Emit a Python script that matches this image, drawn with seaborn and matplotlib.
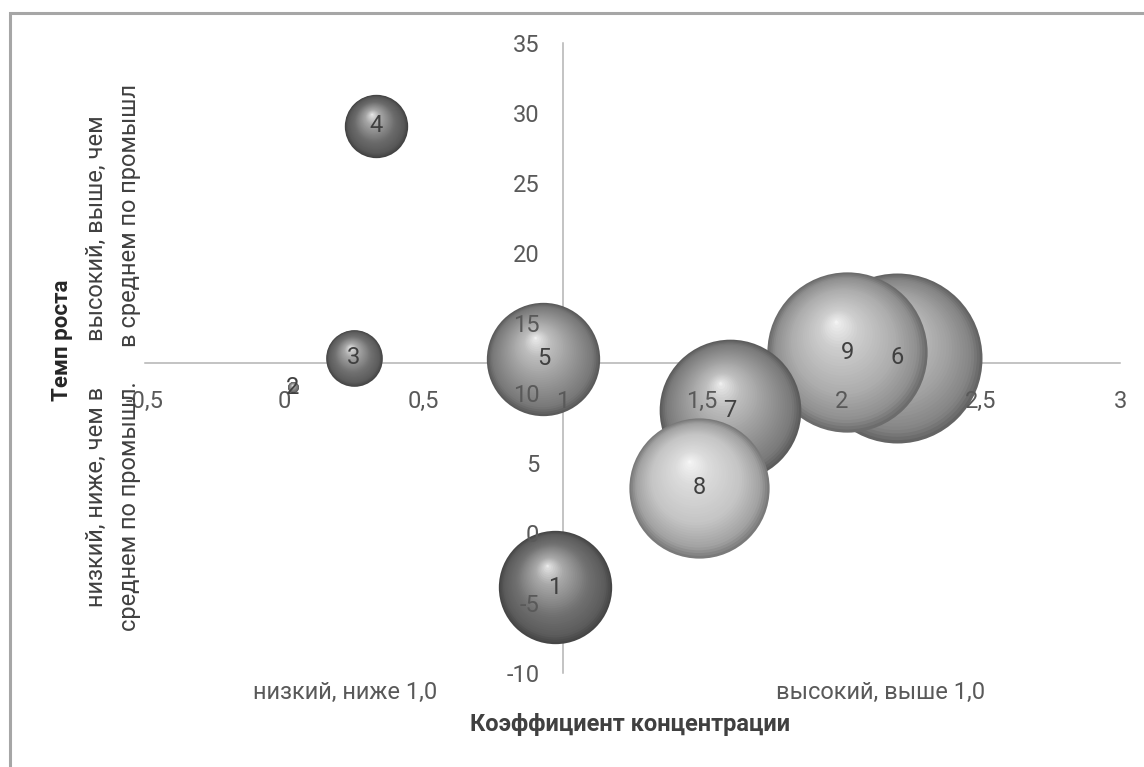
import numpy as np
import pandas as pd
import matplotlib
matplotlib.use("Agg")
import matplotlib.pyplot as plt
from matplotlib.path import Path
from matplotlib.patches import Rectangle
import seaborn as sns

# номера отраслей (подписи пузырьков)
labels = ["1", "2", "3", "4", "5", "6", "7", "8", "9"]
# коэффициент концентрации
conc = [0.97, 0.03, 0.25, 0.33, 0.93, 2.20, 1.60, 1.49, 2.02]
# темп роста
growth = [-3.9, 10.4, 12.5, 29.1, 12.45, 12.5, 8.75, 3.2, 12.9]
# размер пузырька
weight = [3.2, 0.03, 0.8, 1.0, 3.2, 7.2, 5.0, 4.9, 6.4]

x_cross = 1.0    # граница по коэффициенту концентрации
y_cross = 12.1   # средний темп роста по промышленности

x_ticks = [-0.5, 0, 0.5, 1, 1.5, 2, 2.5, 3]
y_ticks = [-10, -5, 0, 5, 10, 15, 20, 25, 30, 35]

# оттенки серого для каждого пузырька
tones = [0.44, 0.50, 0.44, 0.42, 0.57, 0.63, 0.58, 0.77, 0.68]


def fmt(v):
    return ("%g" % v).replace(".", ",")


def layer_marker(t, hx=-0.14, hy=0.38):
    # вложенные круги, сдвинутые к блику -> эффект шара
    circ = Path.circle((t * hx, t * hy), max(1 - t, 0.02))
    verts = np.vstack([[1.0, 1.0], circ.vertices])
    codes = np.concatenate([[Path.MOVETO], circ.codes])
    return Path(verts, codes)


def shade(b, t):
    knots = [0, 0.1, 0.35, 0.75, 1.0]
    vals = [b * 0.62, b * 0.82, b, b + (1 - b) * 0.4, b + (1 - b) * 0.85]
    g = float(np.interp(t, knots, vals))
    return (g, g, g)


df = pd.DataFrame({"label": labels, "conc": conc, "growth": growth, "weight": weight})

sns.set_style("white")
plt.rcParams["font.family"] = ["Roboto", "DejaVu Sans"]
plt.rcParams["axes.unicode_minus"] = False

fig = plt.figure(figsize=(11.44, 7.67), dpi=100)
ax = fig.add_axes([0.1268, 0.1230, 0.8523, 0.8210])

wmax = max(weight)
smax = 2.0736 * 1003.5 * wmax
steps = np.linspace(0, 1, 36)

for i in np.argsort(weight)[::-1]:
    row = df.iloc[[i]]
    for t in steps:
        sns.scatterplot(data=row, x="conc", y="growth", size="weight",
                        sizes=(0, smax), size_norm=(0, wmax),
                        color=shade(tones[i], t), marker=layer_marker(t),
                        linewidth=0, legend=False, ax=ax, zorder=2)

for lab, xv, yv in zip(labels, conc, growth):
    ax.text(xv, yv, lab, ha="center", va="center", fontsize=17,
            color="#404040", zorder=6)

ax.set_xlim(-0.5, 3)
ax.set_ylim(-10, 35)
ax.set_xticks(x_ticks)
ax.set_xticklabels([fmt(v) for v in x_ticks])
ax.set_yticks(y_ticks)
ax.set_yticklabels([fmt(v) for v in y_ticks])
ax.set_xlabel("")
ax.set_ylabel("")

for side in ["top", "right"]:
    ax.spines[side].set_visible(False)
ax.spines["left"].set_position(("data", x_cross))
ax.spines["bottom"].set_position(("data", y_cross))
for side in ["left", "bottom"]:
    ax.spines[side].set_color("#b3b3b3")
    ax.spines[side].set_linewidth(1.1)
    ax.spines[side].set_zorder(1)

ax.tick_params(axis="x", direction="out", length=6, width=1.1, color="#b3b3b3",
               labelsize=17, labelcolor="#595959", pad=13)
ax.tick_params(axis="y", direction="out", length=6, width=1.1, color="#b3b3b3",
               labelsize=17, labelcolor="#595959", pad=11)
ax.xaxis.set_zorder(5)
ax.yaxis.set_zorder(5)
ax.patch.set_alpha(0)

# подписи осей
fig.text(0.3016, 0.0978, "низкий, ниже 1,0", ha="center", va="center",
         fontsize=17, color="#595959")
fig.text(0.7701, 0.0978, "высокий, выше 1,0", ha="center", va="center",
         fontsize=17, color="#595959")
fig.text(0.5507, 0.0560, "Коэффициент концентрации", ha="center", va="center",
         fontsize=17, fontweight="bold", color="#404040")

fig.text(0.0542, 0.5567, "Темп роста", rotation=90, ha="center", va="center",
         fontsize=16, fontweight="bold", color="#262626")
fig.text(0.0839, 0.3520, "низкий, ниже, чем в", rotation=90, ha="center",
         va="center", fontsize=17, color="#404040")
fig.text(0.1128, 0.3403, "среднем по промышл.", rotation=90, ha="center",
         va="center", fontsize=17, color="#404040")
fig.text(0.0839, 0.7027, "высокий, выше, чем", rotation=90, ha="center",
         va="center", fontsize=17, color="#404040")
fig.text(0.1128, 0.7184, "в среднем по промышл", rotation=90, ha="center",
         va="center", fontsize=17, color="#404040")

# рамка области диаграммы
fig.patches.append(Rectangle((10 / 1144, -0.1), 1.2, 1.1 - 13 / 767,
                             transform=fig.transFigure, fill=False,
                             edgecolor="#a6a6a6", linewidth=2.2))

fig.savefig("out.png", dpi=100)
